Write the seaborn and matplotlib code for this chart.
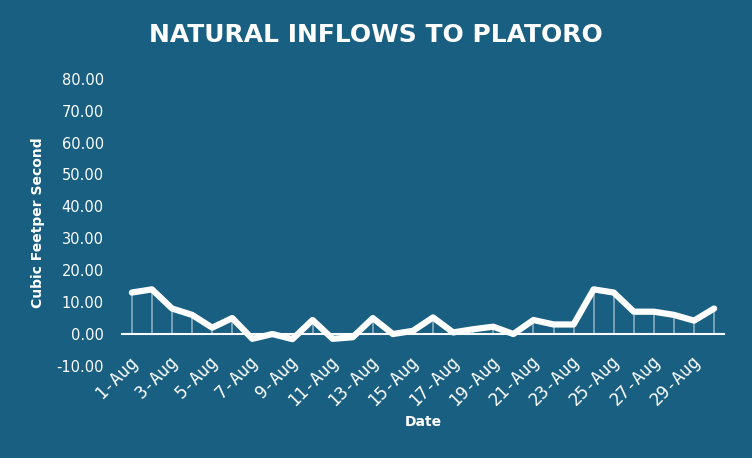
import numpy as np
import pandas as pd
import matplotlib
matplotlib.use('Agg')
import matplotlib.pyplot as plt
import matplotlib.transforms as mtransforms
import seaborn as sns

# Données
dates = ['1-Aug', '2-Aug', '3-Aug', '4-Aug', '5-Aug', '6-Aug', '7-Aug', '8-Aug', '9-Aug', '10-Aug',
         '11-Aug', '12-Aug', '13-Aug', '14-Aug', '15-Aug', '16-Aug', '17-Aug', '18-Aug', '19-Aug', '20-Aug',
         '21-Aug', '22-Aug', '23-Aug', '24-Aug', '25-Aug', '26-Aug', '27-Aug', '28-Aug', '29-Aug', '30-Aug']
inflows = [13, 14, 8, 6, 2, 5, -1.5, 0, -1.6, 4.4,
           -1.5, -1, 5, 0, 1, 5.2, 0.5, 1.5, 2.3, 0,
           4.4, 3, 3, 14, 13, 7, 7, 6, 4.2, 8]
yticks = [-10, 0, 10, 20, 30, 40, 50, 60, 70, 80]

bg = '#185f81'
df = pd.DataFrame({'pos': range(len(dates)), 'Date': dates, 'cfs': inflows})

sns.set_theme(style='white')
plt.rcParams['font.family'] = ['DejaVu Sans']

fig = plt.figure(figsize=(7.52, 4.58), dpi=100, facecolor=bg)
ax = fig.add_axes([0.162, 0.201, 0.801, 0.627])
ax.set_facecolor(bg)

# lignes de rappel vers zéro
ax.vlines(df['pos'], 0, df['cfs'], colors='white', alpha=0.45, linewidth=1.3, zorder=1)

sns.lineplot(data=df, x='pos', y='cfs', color='white', linewidth=4.5, ax=ax, zorder=3)
ax.lines[-1].set_solid_joinstyle('round')
ax.lines[-1].set_solid_capstyle('round')

ax.set_xlim(-0.5, len(dates) - 0.5)
ax.set_ylim(-10, 80)

for s in ax.spines.values():
    s.set_visible(False)
# axe horizontal sur le zéro
ax.spines['bottom'].set_visible(True)
ax.spines['bottom'].set_position(('data', 0))
ax.spines['bottom'].set_color('white')
ax.spines['bottom'].set_linewidth(1.5)
ax.spines['bottom'].set_zorder(2)

ax.set_yticks(yticks)
ax.set_yticklabels([f'{v:.2f}' for v in yticks])
ax.tick_params(axis='y', length=0, pad=13, labelsize=10.5, colors='white')

ax.set_xticks(df['pos'][::2])
ax.set_xticklabels(df['Date'][::2], rotation=45, ha='right', rotation_mode='anchor',
                   fontfamily='DejaVu Sans Mono')
ax.tick_params(axis='x', which='major', length=0, pad=13, labelsize=12.5, colors='white')
ax.set_xticks(np.arange(-0.5, len(dates), 2), minor=True)
ax.tick_params(axis='x', which='minor', direction='out', length=4, width=1.3, color='white')
off = mtransforms.ScaledTranslation(-2 / 72, 0, fig.dpi_scale_trans)
for lbl in ax.get_xticklabels():
    lbl.set_transform(lbl.get_transform() + off)

ax.set_xlabel('Date', color='white', fontsize=10, fontweight='bold')
ax.xaxis.set_label_coords(0.5, -0.171)
ax.set_ylabel('Cubic Feetper Second', color='white', fontsize=10, fontweight='bold')
ax.yaxis.set_label_coords(-0.128, 0.5)
fig.text(0.5, 0.923, 'NATURAL INFLOWS TO PLATORO', color='white', fontsize=18,
         fontweight='bold', ha='center', va='center')

fig.savefig('out.png', dpi=100, facecolor=bg)
